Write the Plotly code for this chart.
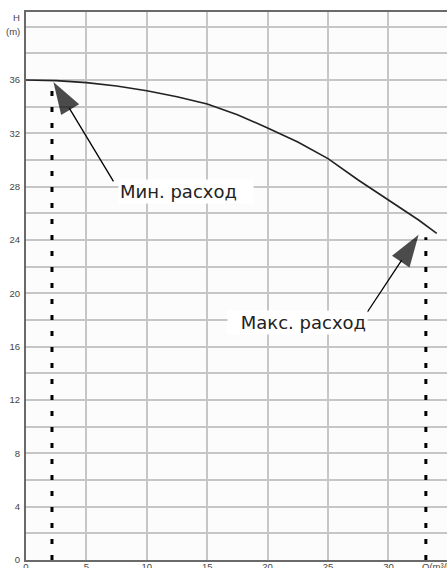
import plotly.graph_objects as go

# Pump curve data (Q in m3/h, H in m)
q_values = [0, 2.5, 5, 7.5, 10, 12.5, 15, 17.5, 20, 22.5, 25, 27.5, 30, 32.5, 34]
h_values = [36.0, 35.95, 35.8, 35.55, 35.2, 34.75, 34.2, 33.4, 32.4, 31.35, 30.1, 28.5, 27.0, 25.5, 24.5]

# Operating limits
q_min = 2.15
h_min_mark = 35.8
q_max = 33.1
h_max_mark = 24.2

# Annotation labels
label_min = "Мин. расход"
label_max = "Макс. расход"

# Axis ticks
x_ticks = [0, 5, 10, 15, 20, 25, 30]
y_grid = list(range(0, 42, 2))
y_labels = [str(v) if (v % 4 == 0 and v <= 36) else "" for v in y_grid]

GRID = "#c6c6c6"
AXIS = "#6a6a6a"
TICKFONT = dict(family="Liberation Sans, Arial", size=9.5, color="#444444")
LABELFONT = dict(family="DejaVu Sans", size=18, color="#222222")

fig = go.Figure()

# dotted vertical markers
fig.add_trace(go.Scatter(x=[q_min, q_min], y=[0, h_min_mark], mode="lines",
                         line=dict(color="black", width=3, dash="5px,11px"),
                         hoverinfo="skip", showlegend=False))
fig.add_trace(go.Scatter(x=[q_max, q_max], y=[0, h_max_mark], mode="lines",
                         line=dict(color="black", width=3, dash="5px,11px"),
                         hoverinfo="skip", showlegend=False))

# curve
fig.add_trace(go.Scatter(x=q_values, y=h_values, mode="lines",
                         line=dict(color="#222222", width=1.6),
                         hoverinfo="skip", showlegend=False))

# arrows (tail -> tip)
arrows = [
    ((7.24, 28.4), (2.27, 35.85)),
    ((28.26, 18.6), (32.5, 24.4)),
]
for (tx, ty), (hx, hy) in arrows:
    fig.add_trace(go.Scatter(x=[tx, hx], y=[ty, hy], mode="lines+markers",
                             line=dict(color="black", width=1.3),
                             marker=dict(symbol="arrow", size=[0, 34], angleref="previous",
                                         color="black", line=dict(width=0)),
                             hoverinfo="skip", showlegend=False))

# text boxes
fig.add_annotation(x=7.62, y=27.64, xref="x", yref="y", text=label_min, showarrow=False,
                   xanchor="left", yanchor="middle", align="left", width=132,
                   bgcolor="white", borderpad=1, font=LABELFONT)
fig.add_annotation(x=28.3, y=17.85, xref="x", yref="y", text=label_max, showarrow=False,
                   xanchor="right", yanchor="middle", align="right", width=137,
                   bgcolor="white", borderpad=1, font=LABELFONT)

# axis titles
fig.add_annotation(x=0, y=1, xref="paper", yref="paper", text="H", showarrow=False,
                   xanchor="right", yanchor="middle", xshift=-4, yshift=-5, font=TICKFONT)
fig.add_annotation(x=0, y=1, xref="paper", yref="paper", text="(m)", showarrow=False,
                   xanchor="right", yanchor="middle", xshift=-4, yshift=-19, font=TICKFONT)
fig.add_annotation(x=32.6, y=0, xref="x", yref="paper", text="Q(m³/h)", showarrow=False,
                   xanchor="left", yanchor="top", yshift=1, font=TICKFONT)

fig.update_xaxes(range=[0, 34.85], tickvals=x_ticks, ticktext=[str(v) for v in x_ticks],
                 showgrid=True, gridcolor=GRID, gridwidth=1.5,
                 showline=True, linecolor=AXIS, linewidth=2, mirror=True,
                 ticks="", zeroline=False, tickfont=TICKFONT, ticklabelstandoff=-3,
                 automargin=False)
fig.update_yaxes(range=[0, 41.1], tickvals=y_grid, ticktext=y_labels,
                 showgrid=True, gridcolor=GRID, gridwidth=1.5,
                 showline=True, linecolor=AXIS, linewidth=2,
                 ticks="", zeroline=False, tickfont=TICKFONT, ticklabelstandoff=2,
                 automargin=False)

fig.update_layout(width=447, height=568,
                  margin=dict(l=26, r=0, t=12, b=8, pad=0, autoexpand=False),
                  paper_bgcolor="white", plot_bgcolor="#fcfcfc",
                  showlegend=False)

fig.write_html("out.html", config={"displayModeBar": False},
               post_script="document.body.style.margin='0';document.body.style.overflow='hidden';")
